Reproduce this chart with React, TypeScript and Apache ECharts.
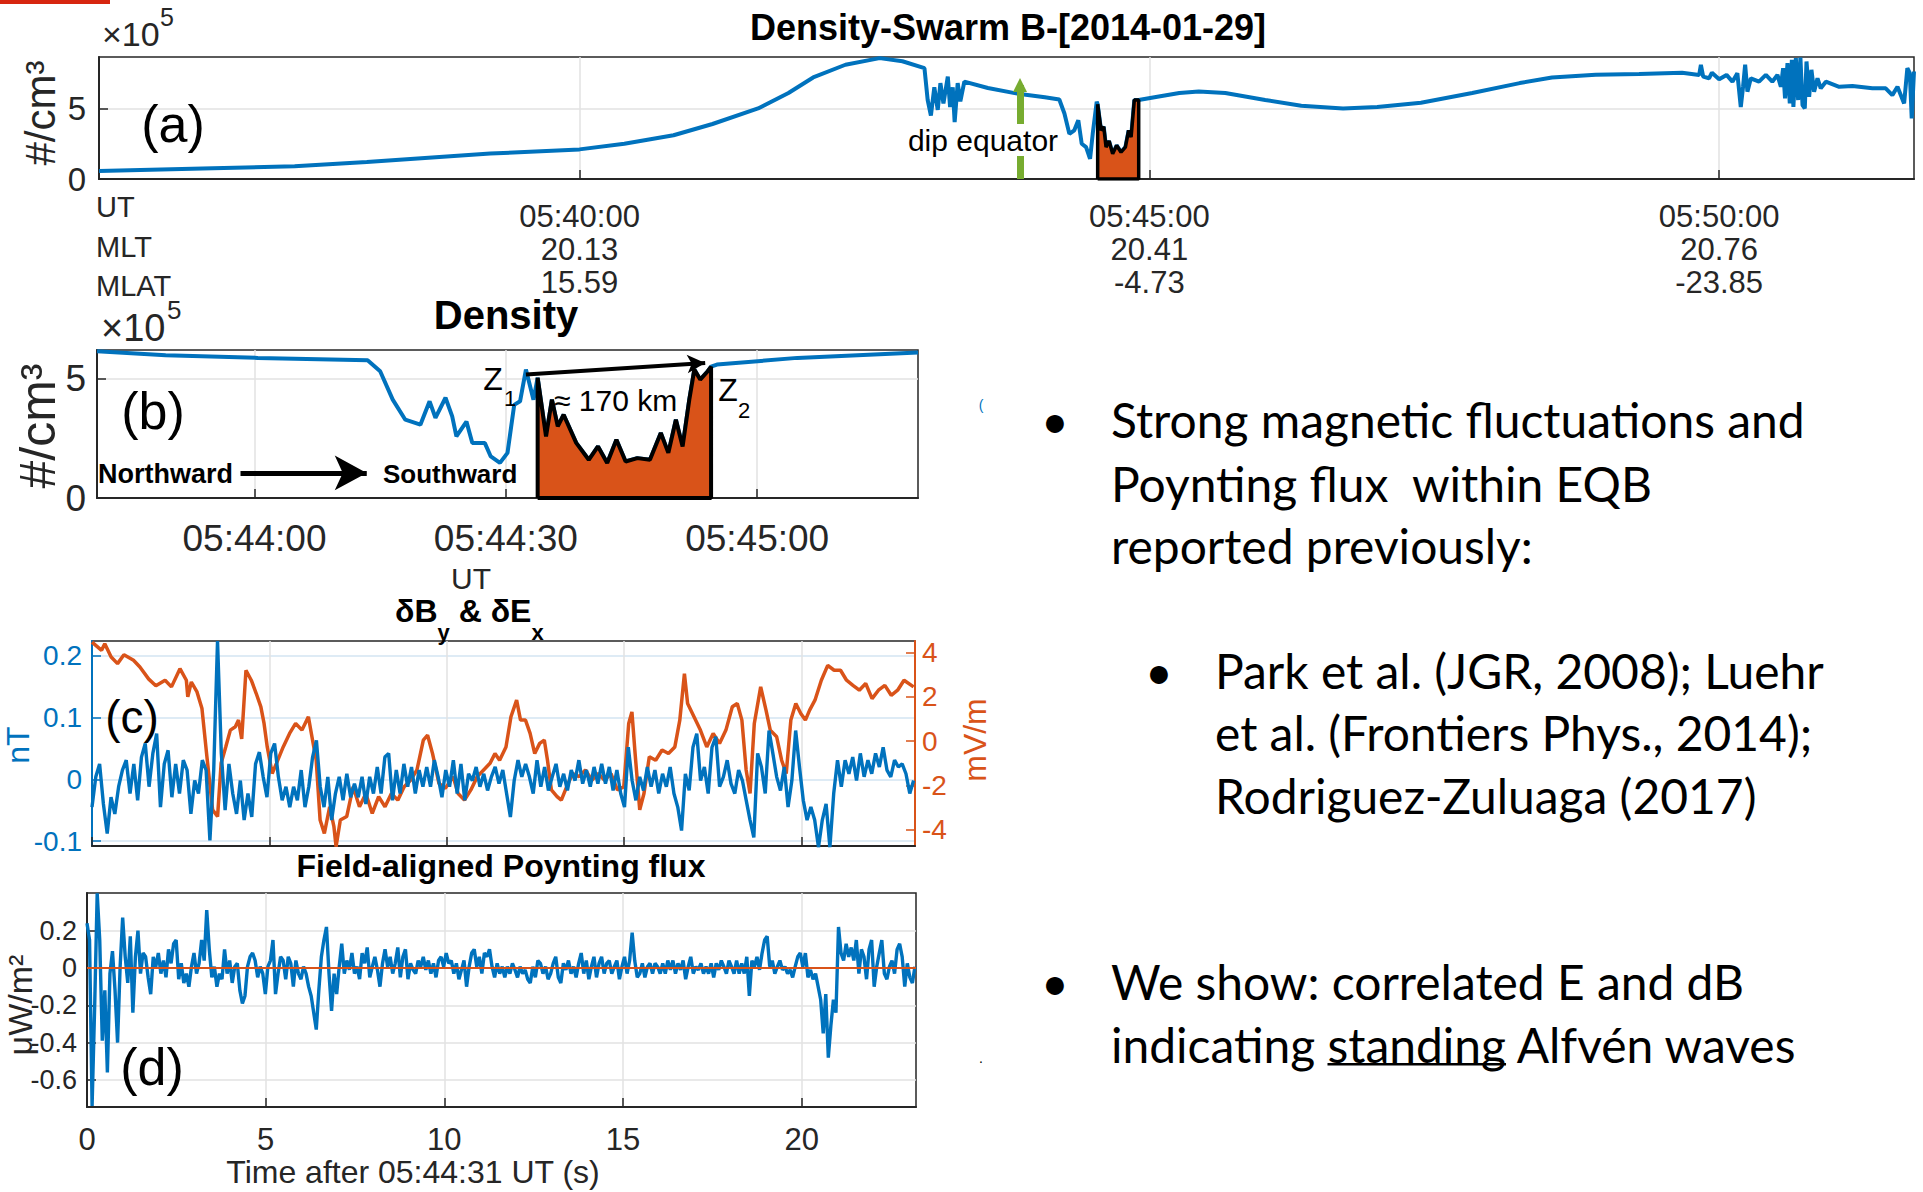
import React, { useEffect, useRef } from 'react';
import * as echarts from 'echarts';

// ---------- Panel (a): seconds after 05:40:00 UT, density (x10^5 #/cm3)
const aTime = [-253, -193, -150, -112, -47, 0, 23.6, 49.5, 70, 94, 110, 123, 140, 158, 170, 181.6, 183.3, 185, 186.8, 188.6, 190, 191.6, 193.9, 195.1, 196.5, 197.5, 199.1, 200.5, 202.6, 215, 229.8, 245, 252.6, 255.3, 257.9, 260.5, 262.6, 264.4, 266.7, 268.8, 270.2, 272.3, 272.8, 274.6, 276, 277.2, 278.8, 280.7, 282.8, 285.1, 287.4, 289.1, 290.4, 292.1, 294.4, 305, 315.8, 326, 340, 361, 380, 402, 420, 443, 470, 495, 512, 535, 557.9, 580.5, 589.5, 590.4, 591.6, 594.7, 596.2, 600, 603.9, 607, 609.6, 611.4, 612.6, 613.7, 614.9, 616.7, 621, 624.6, 628, 630.7, 632.5, 633.7, 634.7, 636, 637.2, 638.3, 639.1, 640.4, 641.6, 642.8, 643.9, 645.1, 646, 647.4, 648.6, 650, 651.8, 653.5, 656.2, 663.2, 670.2, 680.7, 687.7, 691.2, 693.9, 697.4, 699.1, 700.4, 701.4, 702.6];
const aDens = [0.57, 0.77, 0.9, 1.2, 1.8, 2.1, 2.5, 3.1, 3.9, 5.0, 6.1, 7.2, 8.1, 8.57, 8.35, 7.86, 5.6, 4.5, 6.5, 4.9, 6.8, 5.36, 7.26, 5.1, 6.5, 4.04, 6.8, 5.5, 6.9, 6.45, 6.07, 5.8, 5.64, 4.64, 3.2, 3.45, 4.16, 2.5, 2.26, 1.43, 3.2, 5.47, 5.3, 3.45, 3.7, 2.26, 2.7, 1.79, 2.38, 1.9, 2.26, 3.45, 2.97, 5.6, 5.6, 5.85, 6.1, 6.2, 6.1, 5.6, 5.2, 5.0, 5.1, 5.4, 6.1, 6.8, 7.2, 7.4, 7.45, 7.54, 7.38, 8.1, 7.26, 7.14, 7.54, 7.07, 7.38, 6.9, 7.5, 5.11, 6.54, 8.1, 6.19, 7.14, 6.9, 7.38, 6.9, 7.38, 6.54, 7.86, 5.71, 8.21, 5.36, 8.45, 5.11, 8.57, 5.6, 8.6, 5.24, 5.0, 8.33, 5.83, 7.74, 6.19, 7.14, 6.43, 6.9, 6.54, 6.59, 6.43, 6.43, 5.95, 6.54, 5.36, 7.86, 7.5, 4.29, 7.62];
const aZone = [272.8, 294.4];
const aTicks = [0, 300, 600];
const aTickUT = ['05:40:00', '05:45:00', '05:50:00'];
const aTickMLT = ['20.13', '20.41', '20.76'];
const aTickMLAT = ['15.59', '-4.73', '-23.85'];
const aYTicks = [0, 5];
const dipEqTime = 231.9;
const dipEqTop = 6.66;

// ---------- Panel (b): seconds after 05:44:00 UT
const bTime = [-18.8, -10.6, 0.4, 13.5, 15, 16.5, 18, 19.8, 20.9, 21.6, 22.8, 23.6, 24.1, 25.3, 26, 27.5, 28.2, 29.3, 30.2, 31, 31.7, 32.4, 33.3, 33.8, 34.8, 35.5, 36.2, 36.9, 38.4, 39.9, 41, 42.1, 43.2, 44.3, 45.7, 47.2, 48.5, 49.4, 50.3, 51.1, 51.9, 52.5, 53.2, 54.1, 54.5, 55.2, 64.8, 79.2];
const bDens = [6.15, 5.98, 5.87, 5.77, 5.31, 4.12, 3.28, 3.07, 4.05, 3.36, 4.2, 3.42, 2.58, 3.2, 2.3, 2.3, 1.74, 1.47, 1.89, 3.9, 4.05, 5.38, 4.12, 5.04, 2.58, 4.12, 3.0, 3.49, 2.31, 1.6, 2.16, 1.47, 2.44, 1.53, 1.67, 1.6, 2.72, 1.89, 3.28, 2.16, 4.12, 5.38, 4.96, 5.31, 5.5, 5.59, 5.87, 6.1];
const bZone = [33.8, 54.5];
const bTicks = [0, 30, 60];
const bTickLabels = ['05:44:00', '05:44:30', '05:45:00'];
const bYTicks = [0, 5];
const bZArrow = [[32.4, 5.17], [53.8, 5.66]];
const bDirArrow = [[-1.67, 1.05], [13.4, 1.05]];

// ---------- Panel (c): dBy (nT, uniform sampling over 0..23.16 s) and dEx (mV/m)
const cByEnd = 23.16;
const cBy = [-0.045, 0.004, 0.025, -0.04, -0.088, -0.029, -0.056, -0.012, 0.015, 0.031, -0.023, 0.025, -0.034, 0.036, 0.058, -0.012, 0.042, 0.074, -0.045, 0.025, 0.047, -0.029, 0.025, -0.023, 0.031, 0.015, -0.056, -0.002, -0.023, 0.031, 0.015, -0.099, 0.015, 0.224, 0.042, -0.05, 0.025, -0.023, -0.056, -0.002, -0.066, -0.023, -0.061, 0.025, 0.044, 0.004, -0.029, 0.042, 0.058, 0.004, -0.034, -0.012, -0.045, -0.012, -0.034, 0.015, -0.045, -0.012, 0.036, 0.063, -0.012, -0.045, 0.004, -0.066, -0.023, 0.004, -0.034, 0.009, -0.029, -0.007, -0.029, 0.004, -0.04, 0.004, -0.023, 0.02, -0.023, 0.036, 0.042, -0.034, 0.015, -0.023, 0.025, -0.012, 0.02, -0.023, 0.015, -0.012, 0.02, -0.012, 0.031, 0.004, -0.029, 0.015, -0.012, 0.031, -0.023, 0.025, -0.034, 0.009, -0.002, 0.02, -0.012, 0.009, -0.018, 0.004, 0.02, -0.007, 0.015, -0.023, -0.061, -0.002, 0.031, 0.004, 0.025, 0.004, -0.023, 0.031, -0.012, 0.02, -0.018, 0.004, 0.025, -0.012, 0.009, -0.018, 0.015, -0.002, 0.031, -0.007, 0.015, -0.012, 0.02, -0.007, 0.025, -0.007, 0.02, -0.018, 0.015, -0.023, -0.045, 0.052, -0.002, -0.034, 0.004, -0.018, 0.02, -0.012, 0.015, -0.023, 0.009, -0.012, 0.02, -0.023, -0.045, -0.083, 0.009, -0.018, 0.052, 0.074, -0.002, 0.02, -0.023, 0.052, 0.069, -0.012, 0.004, 0.031, -0.007, -0.023, 0.015, -0.002, -0.034, -0.066, -0.094, 0.042, 0.02, -0.023, 0.079, 0.042, 0.004, -0.018, 0.02, -0.045, -0.002, 0.079, 0.02, -0.034, -0.066, -0.045, -0.066, -0.11, -0.066, -0.04, -0.11, -0.023, 0.031, -0.012, 0.031, 0.009, 0.036, -0.002, 0.042, 0.004, 0.031, 0.009, 0.042, 0.02, 0.052, 0.015, 0.004, 0.031, 0.02, 0.025, 0.009, -0.023, -0.002];
const cEtime = [0, 0.27, 0.36, 0.54, 0.72, 0.9, 1.17, 1.35, 1.6, 1.8, 2.06, 2.24, 2.48, 2.66, 2.7, 2.8, 2.96, 3.1, 3.23, 3.4, 3.54, 3.64, 3.77, 3.9, 4.04, 4.13, 4.22, 4.34, 4.49, 4.63, 4.76, 4.85, 4.94, 5.08, 5.2, 5.39, 5.57, 5.74, 5.92, 6.1, 6.2, 6.32, 6.43, 6.55, 6.7, 6.82, 6.88, 7.0, 7.18, 7.36, 7.54, 7.72, 7.9, 8.08, 8.26, 8.44, 8.62, 8.8, 8.98, 9.16, 9.34, 9.46, 9.6, 9.78, 9.96, 10.18, 10.32, 10.5, 10.68, 10.86, 11.04, 11.22, 11.36, 11.49, 11.67, 11.81, 11.97, 12.08, 12.22, 12.35, 12.48, 12.62, 12.75, 12.84, 12.95, 13.11, 13.23, 13.38, 13.55, 13.73, 13.91, 14.09, 14.27, 14.45, 14.63, 14.81, 14.99, 15.13, 15.22, 15.31, 15.44, 15.56, 15.71, 15.89, 16.07, 16.25, 16.43, 16.57, 16.7, 16.79, 16.97, 17.15, 17.33, 17.51, 17.69, 17.87, 18.05, 18.19, 18.32, 18.44, 18.55, 18.67, 18.85, 19.0, 19.12, 19.3, 19.44, 19.57, 19.7, 19.84, 19.98, 20.11, 20.23, 20.38, 20.56, 20.74, 20.92, 21.1, 21.27, 21.45, 21.63, 21.81, 21.99, 22.17, 22.35, 22.53, 22.71, 22.89, 23.16];
const cEval = [4.47, 4.1, 4.4, 3.8, 3.5, 3.9, 3.65, 3.35, 2.8, 2.5, 2.75, 2.45, 3.27, 2.75, 2.0, 2.67, 2.22, 1.47, -0.56, -3.1, -3.4, -1.0, -0.26, 0.5, 0.65, 0.95, 0.1, 3.2, 2.75, 2.15, 1.55, 0.8, -0.26, -1.46, -1.0, -0.26, 0.35, 0.8, 0.5, 1.1, 0.2, -0.86, -3.56, -4.16, -2.96, -3.86, -4.76, -3.56, -3.4, -2.06, -2.96, -2.36, -3.26, -2.5, -2.96, -2.36, -2.66, -2.06, -1.76, -1.3, 0.05, 0.27, -0.56, -1.9, -2.13, -1.6, -2.36, -2.66, -2.2, -1.6, -1.3, -1.0, -0.56, -0.86, -0.26, 1.1, 1.85, 0.95, 0.95, 0.35, -0.56, -0.1, 0.05, -0.86, -2.2, -2.5, -2.66, -2.06, -1.46, -1.6, -1.3, -1.76, -1.46, -1.76, -1.46, -2.2, -2.06, 0.8, 1.32, -0.56, -3.1, -2.36, -0.7, -0.86, -0.4, -0.56, -0.26, 0.95, 3.05, 1.7, 1.1, 0.5, -0.26, 0.35, -0.1, 0.5, 1.55, 1.7, 0.95, -1.3, -2.36, 0.8, 2.45, 1.4, 0.5, 0.2, -0.86, -1.46, 0.95, 1.7, 1.25, 0.95, 1.4, 1.85, 2.75, 3.42, 3.2, 3.2, 2.75, 2.52, 2.3, 2.6, 1.92, 2.3, 2.52, 2.07, 2.3, 2.75, 2.45];
const cLeftTicks = [-0.1, 0, 0.1, 0.2];
const cRightTicks = [-4, -2, 0, 2, 4];

// ---------- Panel (d): field-aligned Poynting flux (uniform sampling over 0..23.17 s)
const dEnd = 23.17;
const dFlux = [0.24, 0.15, -0.74, -0.21, 0.4, 0.15, -0.39, -0.12, -0.56, -0.03, 0.09, -0.12, -0.4, 0.007, 0.27, 0.06, -0.08, 0.17, -0.24, 0.06, 0.2, -0.03, 0.08, 0.06, -0.05, -0.14, 0.06, 0.007, 0.08, -0.03, 0.04, -0.05, 0.1, 0.025, 0.13, 0.15, -0.06, 0.025, -0.08, -0.03, -0.1, 0.007, 0.08, -0.03, 0.025, 0.15, 0.04, 0.31, 0.1, -0.05, 0.007, -0.1, -0.03, -0.06, 0.1, -0.03, 0.04, -0.08, 0.007, 0.025, -0.12, -0.19, -0.15, 0.007, 0.06, 0.08, 0.04, -0.05, 0.007, -0.03, -0.14, 0.007, 0.04, 0.15, -0.14, -0.03, 0.06, 0.04, -0.06, 0.06, 0.025, -0.1, 0.04, -0.03, -0.06, 0.007, -0.03, -0.1, -0.15, -0.24, -0.33, -0.12, 0.06, 0.15, 0.22, -0.03, -0.23, -0.03, -0.14, 0.007, 0.13, -0.03, 0.04, -0.01, 0.08, -0.03, 0.007, -0.06, 0.08, 0.025, 0.11, -0.05, 0.007, 0.06, -0.01, -0.1, 0.025, 0.1, 0.007, 0.06, -0.03, 0.025, 0.11, -0.05, 0.06, 0.1, -0.06, 0.025, -0.01, -0.03, 0.04, 0.007, 0.06, -0.01, 0.04, -0.03, 0.025, -0.05, 0.04, 0.06, 0.007, 0.08, 0.025, 0.04, -0.03, 0.025, -0.06, -0.01, 0.04, -0.1, 0.007, 0.08, 0.1, 0.007, 0.06, -0.03, 0.08, 0.06, 0.1, 0.007, -0.05, 0.025, -0.03, 0.007, -0.05, 0.007, -0.03, 0.025, -0.01, -0.05, 0.007, -0.03, -0.01, -0.06, -0.08, 0.007, -0.05, 0.04, 0.025, -0.03, 0.007, -0.06, -0.03, 0.025, 0.06, -0.05, -0.08, 0.025, -0.01, 0.04, -0.03, 0.007, -0.05, 0.025, 0.08, -0.03, 0.04, -0.06, 0.007, 0.06, -0.05, 0.025, 0.06, -0.03, 0.025, 0.04, -0.03, 0.007, 0.04, -0.06, 0.007, 0.06, -0.03, 0.04, 0.19, 0.04, -0.05, -0.03, 0.025, -0.05, 0.007, 0.025, -0.03, 0.025, 0.007, -0.03, 0.025, -0.03, 0.04, -0.01, 0.04, -0.03, 0.025, -0.01, 0.04, -0.06, 0.007, 0.06, -0.03, 0.007, -0.01, 0.025, -0.03, 0.007, -0.03, 0.025, -0.05, 0.025, -0.01, 0.04, 0.007, -0.03, 0.04, 0.007, -0.03, 0.04, -0.03, 0.025, -0.03, 0.06, -0.15, 0.04, 0.007, 0.06, -0.01, 0.08, 0.15, 0.17, 0.007, 0.04, -0.03, 0.007, 0.04, -0.01, 0.007, -0.03, -0.01, -0.05, 0.007, 0.06, 0.08, 0.007, 0.08, -0.05, -0.01, -0.06, -0.03, -0.1, -0.17, -0.35, -0.14, -0.48, -0.31, -0.17, -0.24, 0.22, 0.08, 0.04, 0.13, 0.06, 0.11, 0.04, 0.15, -0.03, 0.1, 0.06, -0.06, 0.1, 0.15, -0.1, 0.007, 0.08, 0.15, -0.03, -0.06, 0.007, 0.04, -0.03, 0.1, 0.13, 0.06, -0.1, 0.025, -0.05, -0.08, 0.007];
const dYTicks = [-0.6, -0.4, -0.2, 0, 0.2];
const cdXTicks = [0, 5, 10, 15, 20];

// ---------- Right-hand text
const bullet1 = ['Strong magnetic fluctuations and', 'Poynting flux  within EQB', 'reported previously:'];
const bullet2 = ['Park et al. (JGR, 2008); Luehr', 'et al. (Frontiers Phys., 2014);', 'Rodriguez-Zuluaga (2017)'];
const bullet3 = ['We show: correlated E and dB', 'indicating standing Alfvén waves'];
const underlinePrefix = 'indicating ';
const underlineWord = 'standing';

const FONT = '"Liberation Sans", Arial, Helvetica, sans-serif';
const BLUE = '#0072BD';
const ORANGE = '#D95319';
const GREEN = '#77AC30';
const AX = '#262626';
const GRIDC = '#e2e2e2';

function zonePoints(ts: number[], vs: number[], z: number[]) {
  const pts: number[][] = [[z[0], 0]];
  ts.forEach((t, i) => {
    if (t >= z[0] && t <= z[1]) pts.push([t, vs[i]]);
  });
  pts.push([z[1], 0]);
  pts.push([z[0], 0]);
  return pts;
}

export default function App() {
  const ref = useRef<HTMLDivElement>(null);
  useEffect(() => {
    if (!ref.current) return;
    const chart = echarts.init(ref.current, null, { renderer: 'svg' });
    const ctx = document.createElement('canvas').getContext('2d')!;
    const measure = (s: string, f: string) => {
      ctx.font = f;
      return ctx.measureText(s).width;
    };

    const T = (text: string, x: number, y: number, size: number, o: any = {}) => {
      const font = `${o.italic ? 'italic ' : ''}${o.bold ? 'bold ' : ''}${size}px ${o.family || FONT}`;
      const style: any = {
        text,
        font,
        fill: o.color || '#000',
        textAlign: o.align || 'center',
        textVerticalAlign: 'middle',
      };
      if (o.bg) {
        style.textBackgroundColor = o.bg;
        style.backgroundColor = o.bg;
        style.textPadding = o.pad || [0, 2];
        style.padding = o.pad || [0, 2];
      }
      return { type: 'text', x, y, rotation: o.rot || 0, z: 100, silent: true, style };
    };

    // Right text font fitted to reference width of first line (694px)
    const RF = 'Lato, "Open Sans", sans-serif';
    const fsR = (50 * 694) / measure(bullet1[0], `50px ${RF}`);
    const rFont = `${fsR}px ${RF}`;
    const rightEls: any[] = [];
    const b1y = [419, 483, 545];
    const b2y = [670, 732, 795];
    const b3y = [981, 1044];
    rightEls.push(T('•', 1055, b1y[0], fsR, { family: RF }));
    bullet1.forEach((s, i) => rightEls.push(T(s, 1111, b1y[i], fsR, { family: RF, align: 'left' })));
    rightEls.push(T('•', 1159, b2y[0], fsR, { family: RF }));
    bullet2.forEach((s, i) => rightEls.push(T(s, 1215, b2y[i], fsR, { family: RF, align: 'left' })));
    rightEls.push(T('•', 1055, b3y[0], fsR, { family: RF }));
    bullet3.forEach((s, i) => rightEls.push(T(s, 1111, b3y[i], fsR, { family: RF, align: 'left' })));
    const ux0 = 1111 + measure(underlinePrefix, rFont);
    const uw = measure(underlineWord, rFont);
    rightEls.push({
      type: 'line', z: 100, silent: true,
      shape: { x1: ux0, y1: b3y[1] + fsR * 0.42, x2: ux0 + uw, y2: b3y[1] + fsR * 0.42 },
      style: { stroke: '#000', lineWidth: 2.5 },
    });

    // (c) title with subscripts
    const cTitleEls: any[] = [];
    const mainF = `bold 32px ${FONT}`;
    const subF = `bold 22px ${FONT}`;
    let cx = 395;
    const pieces: [string, boolean][] = [['δB', false], ['y', true], [' & δE', false], ['x', true]];
    pieces.forEach(([s, sub]) => {
      cTitleEls.push(T(s, cx, sub ? 632 : 611, sub ? 22 : 32, { bold: true, align: 'left' }));
      cx += measure(s, sub ? subF : mainF);
    });

    const axisLineS = { show: true, onZero: false, lineStyle: { color: AX, width: 2 } };
    const tickS = (vals: number[], color = AX) => ({
      show: true, inside: true, length: 9, customValues: vals, lineStyle: { color, width: 1.5 },
    });

    const option: any = {
      animation: false,
      backgroundColor: '#fff',
      textStyle: { fontFamily: FONT },
      grid: [
        { left: 99, top: 57, width: 1815, height: 122 },
        { left: 97, top: 350, width: 821, height: 148 },
        { left: 92, top: 641, width: 823, height: 205 },
        { left: 87, top: 893, width: 829, height: 214 },
      ].map((g) => ({ ...g, show: true, borderColor: AX, borderWidth: 1.5, backgroundColor: '#fff' })),
      xAxis: [
        {
          gridIndex: 0, type: 'value', min: -253, max: 702.6,
          axisLine: axisLineS, axisTick: tickS(aTicks),
          splitLine: { show: true, lineStyle: { color: GRIDC, width: 1.5 } },
          axisLabel: {
            customValues: aTicks, fontSize: 31, color: AX, margin: 21, lineHeight: 33, fontFamily: FONT,
            formatter: (v: number) => {
              const i = aTicks.indexOf(v);
              return i < 0 ? '' : `${aTickUT[i]}\n${aTickMLT[i]}\n${aTickMLAT[i]}`;
            },
          },
        },
        {
          gridIndex: 1, type: 'value', min: -18.8, max: 79.2,
          axisLine: axisLineS, axisTick: tickS(bTicks),
          splitLine: { show: true, lineStyle: { color: GRIDC, width: 1.5 } },
          axisLabel: {
            customValues: bTicks, fontSize: 37, color: AX, margin: 22, fontFamily: FONT,
            formatter: (v: number) => {
              const i = bTicks.indexOf(v);
              return i < 0 ? '' : bTickLabels[i];
            },
          },
        },
        {
          gridIndex: 2, type: 'value', min: 0, max: 23.2,
          axisLine: axisLineS, axisTick: tickS(cdXTicks),
          splitLine: { show: true, lineStyle: { color: GRIDC, width: 1.5 } },
          axisLabel: { show: false, customValues: cdXTicks },
        },
        {
          gridIndex: 3, type: 'value', min: 0, max: 23.2,
          axisLine: axisLineS, axisTick: tickS(cdXTicks),
          splitLine: { show: true, lineStyle: { color: GRIDC, width: 1.5 } },
          axisLabel: { customValues: cdXTicks, fontSize: 31, color: AX, margin: 17, fontFamily: FONT },
        },
      ],
      yAxis: [
        {
          gridIndex: 0, type: 'value', min: 0, max: 8.65,
          axisLine: axisLineS, axisTick: tickS(aYTicks),
          splitLine: { show: true, lineStyle: { color: GRIDC, width: 1.5 } },
          axisLabel: { customValues: aYTicks, fontSize: 33, color: AX, margin: 13, fontFamily: FONT },
        },
        {
          gridIndex: 1, type: 'value', min: 0, max: 6.2,
          axisLine: axisLineS, axisTick: tickS(bYTicks),
          splitLine: { show: true, lineStyle: { color: GRIDC, width: 1.5 } },
          axisLabel: { customValues: bYTicks, fontSize: 37, color: AX, margin: 11, fontFamily: FONT },
        },
        {
          gridIndex: 2, type: 'value', min: -0.108, max: 0.224, position: 'left',
          axisLine: { show: true, onZero: false, lineStyle: { color: BLUE, width: 2 } },
          axisTick: tickS(cLeftTicks, BLUE),
          splitLine: { show: true, lineStyle: { color: '#d3e4f2', width: 1.5 } },
          axisLabel: { customValues: cLeftTicks, fontSize: 28, color: BLUE, margin: 10, fontFamily: FONT },
        },
        {
          gridIndex: 2, type: 'value', min: -4.73, max: 4.52, position: 'right',
          axisLine: { show: true, onZero: false, lineStyle: { color: ORANGE, width: 2 } },
          axisTick: tickS(cRightTicks, ORANGE),
          splitLine: { show: false },
          axisLabel: { customValues: cRightTicks, fontSize: 28, color: ORANGE, margin: 7, fontFamily: FONT },
        },
        {
          gridIndex: 3, type: 'value', min: -0.745, max: 0.402,
          axisLine: axisLineS, axisTick: tickS(dYTicks),
          splitLine: { show: true, lineStyle: { color: GRIDC, width: 1.5 } },
          axisLabel: { customValues: dYTicks, fontSize: 27, color: AX, margin: 10, fontFamily: FONT },
        },
      ],
      series: [
        {
          type: 'line', xAxisIndex: 0, yAxisIndex: 0, z: 2, symbol: 'none', showSymbol: false,
          data: aTime.map((t, i) => [t, aDens[i]]),
          lineStyle: { color: BLUE, width: 4 },
          markLine: {
            silent: true, animation: false, symbol: ['none', 'triangle'], symbolSize: [14, 14],
            label: { show: false },
            lineStyle: { color: GREEN, width: 7, type: 'solid' },
            data: [[{ coord: [dipEqTime, 0] }, { coord: [dipEqTime, dipEqTop] }]],
          },
        },
        {
          type: 'line', xAxisIndex: 0, yAxisIndex: 0, z: 3, symbol: 'none', showSymbol: false,
          data: zonePoints(aTime, aDens, aZone),
          lineStyle: { color: '#000', width: 3.5 },
          areaStyle: { color: ORANGE, opacity: 1 },
        },
        {
          type: 'line', xAxisIndex: 1, yAxisIndex: 1, z: 2, symbol: 'none', showSymbol: false,
          data: bTime.map((t, i) => [t, bDens[i]]),
          lineStyle: { color: BLUE, width: 4 },
          markLine: {
            silent: true, animation: false, symbol: ['none', 'arrow'], symbolSize: [26, 32],
            label: { show: false },
            lineStyle: { color: '#000', width: 5, type: 'solid' },
            data: [[{ coord: bDirArrow[0] }, { coord: bDirArrow[1] }]],
          },
        },
        {
          type: 'line', xAxisIndex: 1, yAxisIndex: 1, z: 3, symbol: 'none', showSymbol: false,
          data: zonePoints(bTime, bDens, bZone),
          lineStyle: { color: '#000', width: 4 },
          areaStyle: { color: ORANGE, opacity: 1 },
          markLine: {
            silent: true, animation: false, symbol: ['none', 'arrow'], symbolSize: [14, 18],
            label: { show: false },
            lineStyle: { color: '#000', width: 4, type: 'solid' },
            data: [[{ coord: bZArrow[0] }, { coord: bZArrow[1] }]],
          },
        },
        {
          type: 'line', xAxisIndex: 2, yAxisIndex: 3, z: 2, symbol: 'none', showSymbol: false,
          data: cEtime.map((t, i) => [t, cEval[i]]),
          lineStyle: { color: ORANGE, width: 3.5 },
        },
        {
          type: 'line', xAxisIndex: 2, yAxisIndex: 2, z: 3, symbol: 'none', showSymbol: false,
          data: cBy.map((v, i) => [(i * cByEnd) / (cBy.length - 1), v]),
          lineStyle: { color: BLUE, width: 3.4 },
        },
        {
          type: 'line', xAxisIndex: 3, yAxisIndex: 4, z: 2, symbol: 'none', showSymbol: false,
          data: dFlux.map((v, i) => [(i * dEnd) / (dFlux.length - 1), v]),
          lineStyle: { color: BLUE, width: 3.4 },
          markLine: {
            silent: true, animation: false, symbol: ['none', 'none'],
            label: { show: false },
            lineStyle: { color: ORANGE, width: 2, type: 'solid' },
            data: [{ yAxis: 0 }],
          },
        },
      ],
      graphic: {
        elements: [
          { type: 'rect', z: 100, silent: true, shape: { x: 0, y: 0, width: 110, height: 4 }, style: { fill: '#d7260f' } },
          // (a)
          T('Density-Swarm B-[2014-01-29]', 1008, 27, 36, { bold: true }),
          T('×10', 102, 34, 34, { align: 'left', color: AX }),
          T('5', 160, 17, 25, { align: 'left', color: AX }),
          T('#/cm³', 40, 113, 42, { rot: Math.PI / 2, color: AX }),
          T('(a)', 173, 124, 52),
          T('dip equator', 983, 140, 30, { bg: '#fff', pad: [1, 2] }),
          T('UT', 96, 207, 29, { align: 'left', color: AX }),
          T('MLT', 96, 247, 29, { align: 'left', color: AX }),
          T('MLAT', 96, 286, 29, { align: 'left', color: AX }),
          // (b)
          T('Density', 506, 315, 40, { bold: true }),
          T('×10', 101, 328, 38, { align: 'left', color: AX }),
          T('5', 167, 310, 26, { align: 'left', color: AX }),
          T('#/cm³', 38, 426, 50, { rot: Math.PI / 2, color: AX }),
          T('(b)', 153, 411, 52),
          T('Z', 493, 379, 32),
          T('1', 510, 398, 22),
          T('Z', 728, 390, 32),
          T('2', 744, 410, 22),
          T('≈ 170 km', 554, 400, 30, { align: 'left' }),
          T('Northward', 98, 474, 27, { bold: true, align: 'left' }),
          T('Southward', 383, 474, 26, { bold: true, align: 'left' }),
          T('UT', 471, 578, 30, { color: AX }),
          // (c)
          ...cTitleEls,
          T('(c)', 132, 717, 46),
          T('nT', 18, 745, 32, { rot: Math.PI / 2, color: BLUE }),
          T('mV/m', 975, 740, 32, { rot: Math.PI / 2, color: ORANGE }),
          T('(', 981, 405, 14, { color: BLUE }),
          // (d)
          T('Field-aligned Poynting flux', 501, 866, 32, { bold: true }),
          T('(d)', 152, 1067, 52),
          T('μW/m²', 20, 1005, 34, { rot: Math.PI / 2, color: AX }),
          T('Time after 05:44:31 UT (s)', 413, 1172, 32, { color: AX }),
          T('.', 981, 1058, 14),
          ...rightEls,
        ],
      },
    };
    chart.setOption(option);
    return () => chart.dispose();
  }, []);
  return (
    <div
      ref={ref}
      style={{ position: 'fixed', left: 0, top: 0, width: 1923, height: 1192, background: '#fff' }}
    />
  );
}
